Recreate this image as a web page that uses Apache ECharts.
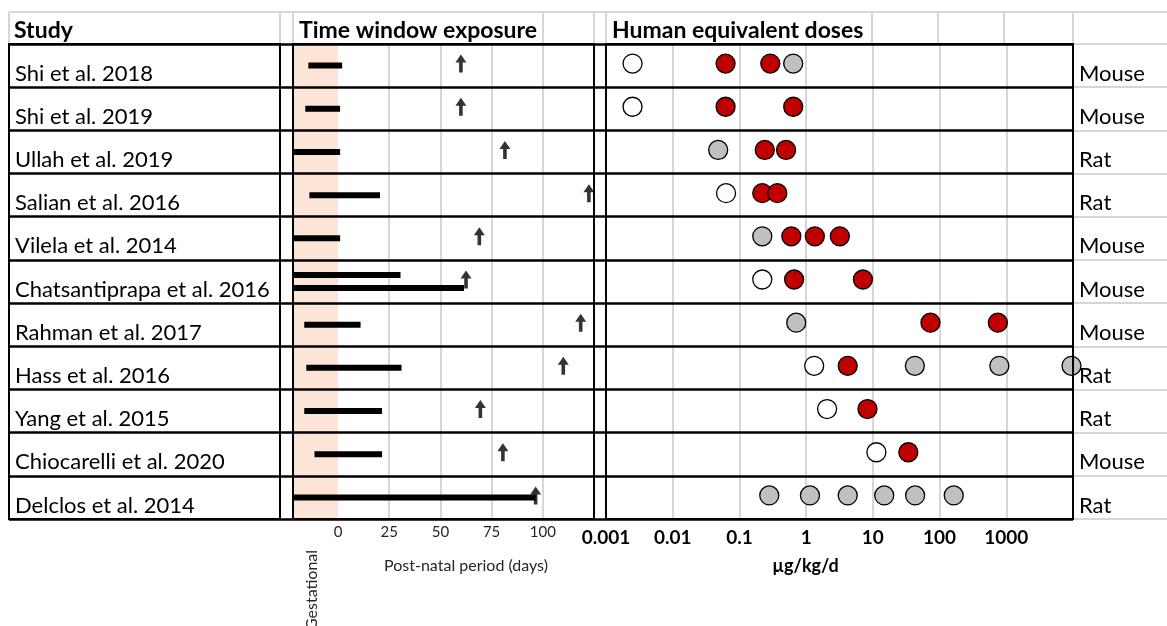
<!DOCTYPE html>
<html>
<head>
<meta charset="utf-8">
<script src="https://cdn.jsdelivr.net/npm/echarts@6/dist/echarts.min.js"></script>
<style>
  html, body { margin: 0; padding: 0; background: #fff; }
  #chart { width: 1167px; height: 626px; }
</style>
</head>
<body>
<div id="chart"></div>
<script>
// studies (rows, top to bottom) and the animal used
const studies = ['Shi et al. 2018', 'Shi et al. 2019', 'Ullah et al. 2019', 'Salian et al. 2016',
  'Vilela et al. 2014', 'Chatsantiprapa et al. 2016', 'Rahman et al. 2017', 'Hass et al. 2016',
  'Yang et al. 2015', 'Chiocarelli et al. 2020', 'Delclos et al. 2014'];
const species = ['Mouse', 'Mouse', 'Rat', 'Rat', 'Mouse', 'Mouse', 'Mouse', 'Rat', 'Rat', 'Mouse', 'Rat'];

// exposure windows in days (negative = gestational), one entry per bar
const exposureStudy = [0, 1, 2, 3, 4, 5, 5, 6, 7, 8, 9, 10];
const exposureFrom = [-14.5, -16, -22, -14, -22, -22, -22, -16.5, -15.5, -16.5, -11.5, -22];
const exposureTo = [2, 1, 1, 20.5, 1, 30.5, 61.5, 11, 31, 21.5, 21.5, 96.5];
// day of assessment (arrow), one per study
const assessmentDay = [60, 60, 81.5, 122.5, 69, 62.5, 118.5, 110, 69.5, 80.5, 96.5];
const gestation = [-22, 0];
const dayTicks = [0, 25, 50, 75, 100];

// human equivalent doses (µg/kg/d), one list per study
const openDoses = [[0.0025], [0.0025], [], [0.063], [], [0.22], [], [1.32], [2.06], [11.3], []];
const redDoses = [[0.062, 0.29], [0.062, 0.64], [0.24, 0.5], [0.22, 0.37], [0.6, 1.35, 3.2],
  [0.66, 7.1], [73, 748], [4.2], [8.3], [34], []];
const greyDoses = [[0.64], [], [0.048], [], [0.22], [], [0.71], [42.6, 787, 9500], [], [],
  [0.28, 1.14, 4.2, 14.8, 43, 163]];

const FONT = 'Lato';
const TOP = 44, BOTTOM = 519;

function toPoints(lists) {
  const out = [];
  lists.forEach((l, i) => l.forEach(v => out.push([v, i])));
  return out;
}

const barCount = {};
exposureStudy.forEach(s => { barCount[s] = (barCount[s] || 0) + 1; });
const seen = {};
const barData = exposureStudy.map((s, i) => {
  const lane = seen[s] || 0;
  seen[s] = lane + 1;
  return [exposureFrom[i], exposureTo[i], s, lane, barCount[s]];
});

const chart = echarts.init(document.getElementById('chart'));

const catAxis = (gridIndex, extra) => Object.assign({
  type: 'category', gridIndex, data: studies, inverse: true,
  axisLine: { show: false }, axisTick: { show: false }, axisLabel: { show: false },
  splitLine: { show: false }
}, extra || {});

const rowLabel = (margin, names) => ({
  show: true, margin, color: '#000', fontSize: 22, fontFamily: FONT,
  verticalAlign: 'top', lineHeight: 16,
  formatter: (v, i) => names[i]
});

const gridBase = { top: TOP, height: BOTTOM - TOP, outerBoundsMode: 'none', show: true,
  borderColor: '#000', borderWidth: 2, backgroundColor: 'transparent', z: 10 };

const dots = (lists, color) => ({
  type: 'scatter', xAxisIndex: 3, yAxisIndex: 3, symbolSize: 19, symbolOffset: [0, -2],
  itemStyle: { color, borderColor: '#000', borderWidth: 1.3, opacity: 1 },
  data: toPoints(lists)
});

chart.setOption({
  animation: false,
  textStyle: { fontFamily: FONT },
  grid: [
    // table frame (row lines)
    { left: 9, width: 1064, top: TOP, height: BOTTOM - TOP, outerBoundsMode: 'none' },
    // study column
    Object.assign({ left: 9, width: 271 }, gridBase),
    // time window panel
    Object.assign({ left: 293, width: 301 }, gridBase),
    // dose panel
    Object.assign({ left: 606, width: 467 }, gridBase),
    // species column (light rows)
    { left: 1073, right: 0, top: TOP, height: BOTTOM - TOP, outerBoundsMode: 'none' }
  ],
  xAxis: [
    { type: 'value', gridIndex: 0, show: false },
    { type: 'value', gridIndex: 1, show: false },
    {
      type: 'value', gridIndex: 2, min: -22, max: 125,
      axisLine: { show: false },
      axisTick: { show: false, customValues: [25, 50, 75, 100] },
      axisLabel: { customValues: dayTicks, color: '#262626', fontSize: 15, margin: 6, fontFamily: FONT },
      splitLine: { show: true, lineStyle: { color: '#D6D6D6', width: 2 } },
      name: 'Post-natal period (days)', nameLocation: 'middle', nameGap: 39,
      nameTextStyle: { color: '#262626', fontSize: 16, padding: [0, 0, 0, 45], fontFamily: FONT }
    },
    {
      type: 'log', gridIndex: 3, min: 0.001, max: 10000, logBase: 10, splitNumber: 7,
      axisLine: { show: false }, axisTick: { show: false },
      axisLabel: {
        color: '#000', fontSize: 19, fontWeight: 'bold', margin: 9, fontFamily: FONT,
        showMaxLabel: false,
        formatter: v => v >= 10000 ? '' : String(+v.toPrecision(3))
      },
      splitLine: { show: true, lineStyle: { color: '#D6D6D6', width: 2 } },
      name: 'µg/kg/d', nameLocation: 'middle', nameGap: 38,
      nameTextStyle: { color: '#000', fontSize: 18, fontWeight: 'bold', padding: [0, 68, 0, 0], fontFamily: FONT }
    },
    { type: 'value', gridIndex: 4, show: false }
  ],
  yAxis: [
    catAxis(0, { z: 10, splitLine: { show: true, lineStyle: { color: '#000', width: 2.5 } } }),
    catAxis(1, { axisLabel: Object.assign(rowLabel(6, studies), { inside: true }) }),
    catAxis(2),
    catAxis(3),
    catAxis(3, { position: 'right', axisLabel: rowLabel(6, species) }),
    catAxis(4, { splitLine: { show: true, lineStyle: { color: '#D6D6D6', width: 2 } } })
  ],
  series: [
    {
      type: 'custom', xAxisIndex: 2, yAxisIndex: 2, z: 2,
      data: barData, encode: { x: [0, 1], y: 2 },
      renderItem: (params, api) => {
        const a = api.coord([api.value(0), api.value(2)]);
        const b = api.coord([api.value(1), api.value(2)]);
        const dy = (api.value(3) - (api.value(4) - 1) / 2) * 13;
        return { type: 'rect', shape: { x: a[0], y: a[1] + dy - 3, width: b[0] - a[0], height: 6 }, style: { fill: '#000' } };
      },
      markArea: {
        silent: true, z: 1,
        itemStyle: { color: '#FCE4D6' },
        data: [[{ xAxis: gestation[0] }, { xAxis: gestation[1] }]]
      }
    },
    {
      type: 'scatter', xAxisIndex: 2, yAxisIndex: 2, z: 3,
      symbol: 'path://M5.5,0 L11,8 L7.3,8 L7.3,18 L3.7,18 L3.7,8 L0,8 Z',
      symbolSize: [11, 18], symbolOffset: [0, -2],
      itemStyle: { color: '#000' },
      data: assessmentDay.map((d, i) => [d, i])
    },
    dots(openDoses, '#fff'),
    dots(greyDoses, '#C0C0C0'),
    dots(redDoses, '#C00000')
  ],
  graphic: [
    { type: 'line', shape: { x1: 9, y1: 12, x2: 1167, y2: 12 }, style: { stroke: '#D6D6D6', lineWidth: 2 } },
    ...[9, 280, 293, 543, 594, 606, 872, 938, 1004, 1073].map(x => ({
      type: 'line', shape: { x1: x, y1: 12, x2: x, y2: TOP }, style: { stroke: '#D6D6D6', lineWidth: 2 }
    })),
    { type: 'text', x: 14, y: 31, style: { text: 'Study', font: 'bold 23px ' + FONT, fill: '#000', verticalAlign: 'middle' } },
    { type: 'text', x: 299, y: 31, style: { text: 'Time window exposure', font: 'bold 23px ' + FONT, fill: '#000', verticalAlign: 'middle' } },
    { type: 'text', x: 612, y: 31, style: { text: 'Human equivalent doses', font: 'bold 23px ' + FONT, fill: '#000', verticalAlign: 'middle' } },
    {
      type: 'text', x: 312, y: 590, rotation: Math.PI / 2,
      style: { text: 'Gestational', font: '16px ' + FONT, fill: '#262626', align: 'center', verticalAlign: 'middle' }
    }
  ]
});
</script>
</body>
</html>
